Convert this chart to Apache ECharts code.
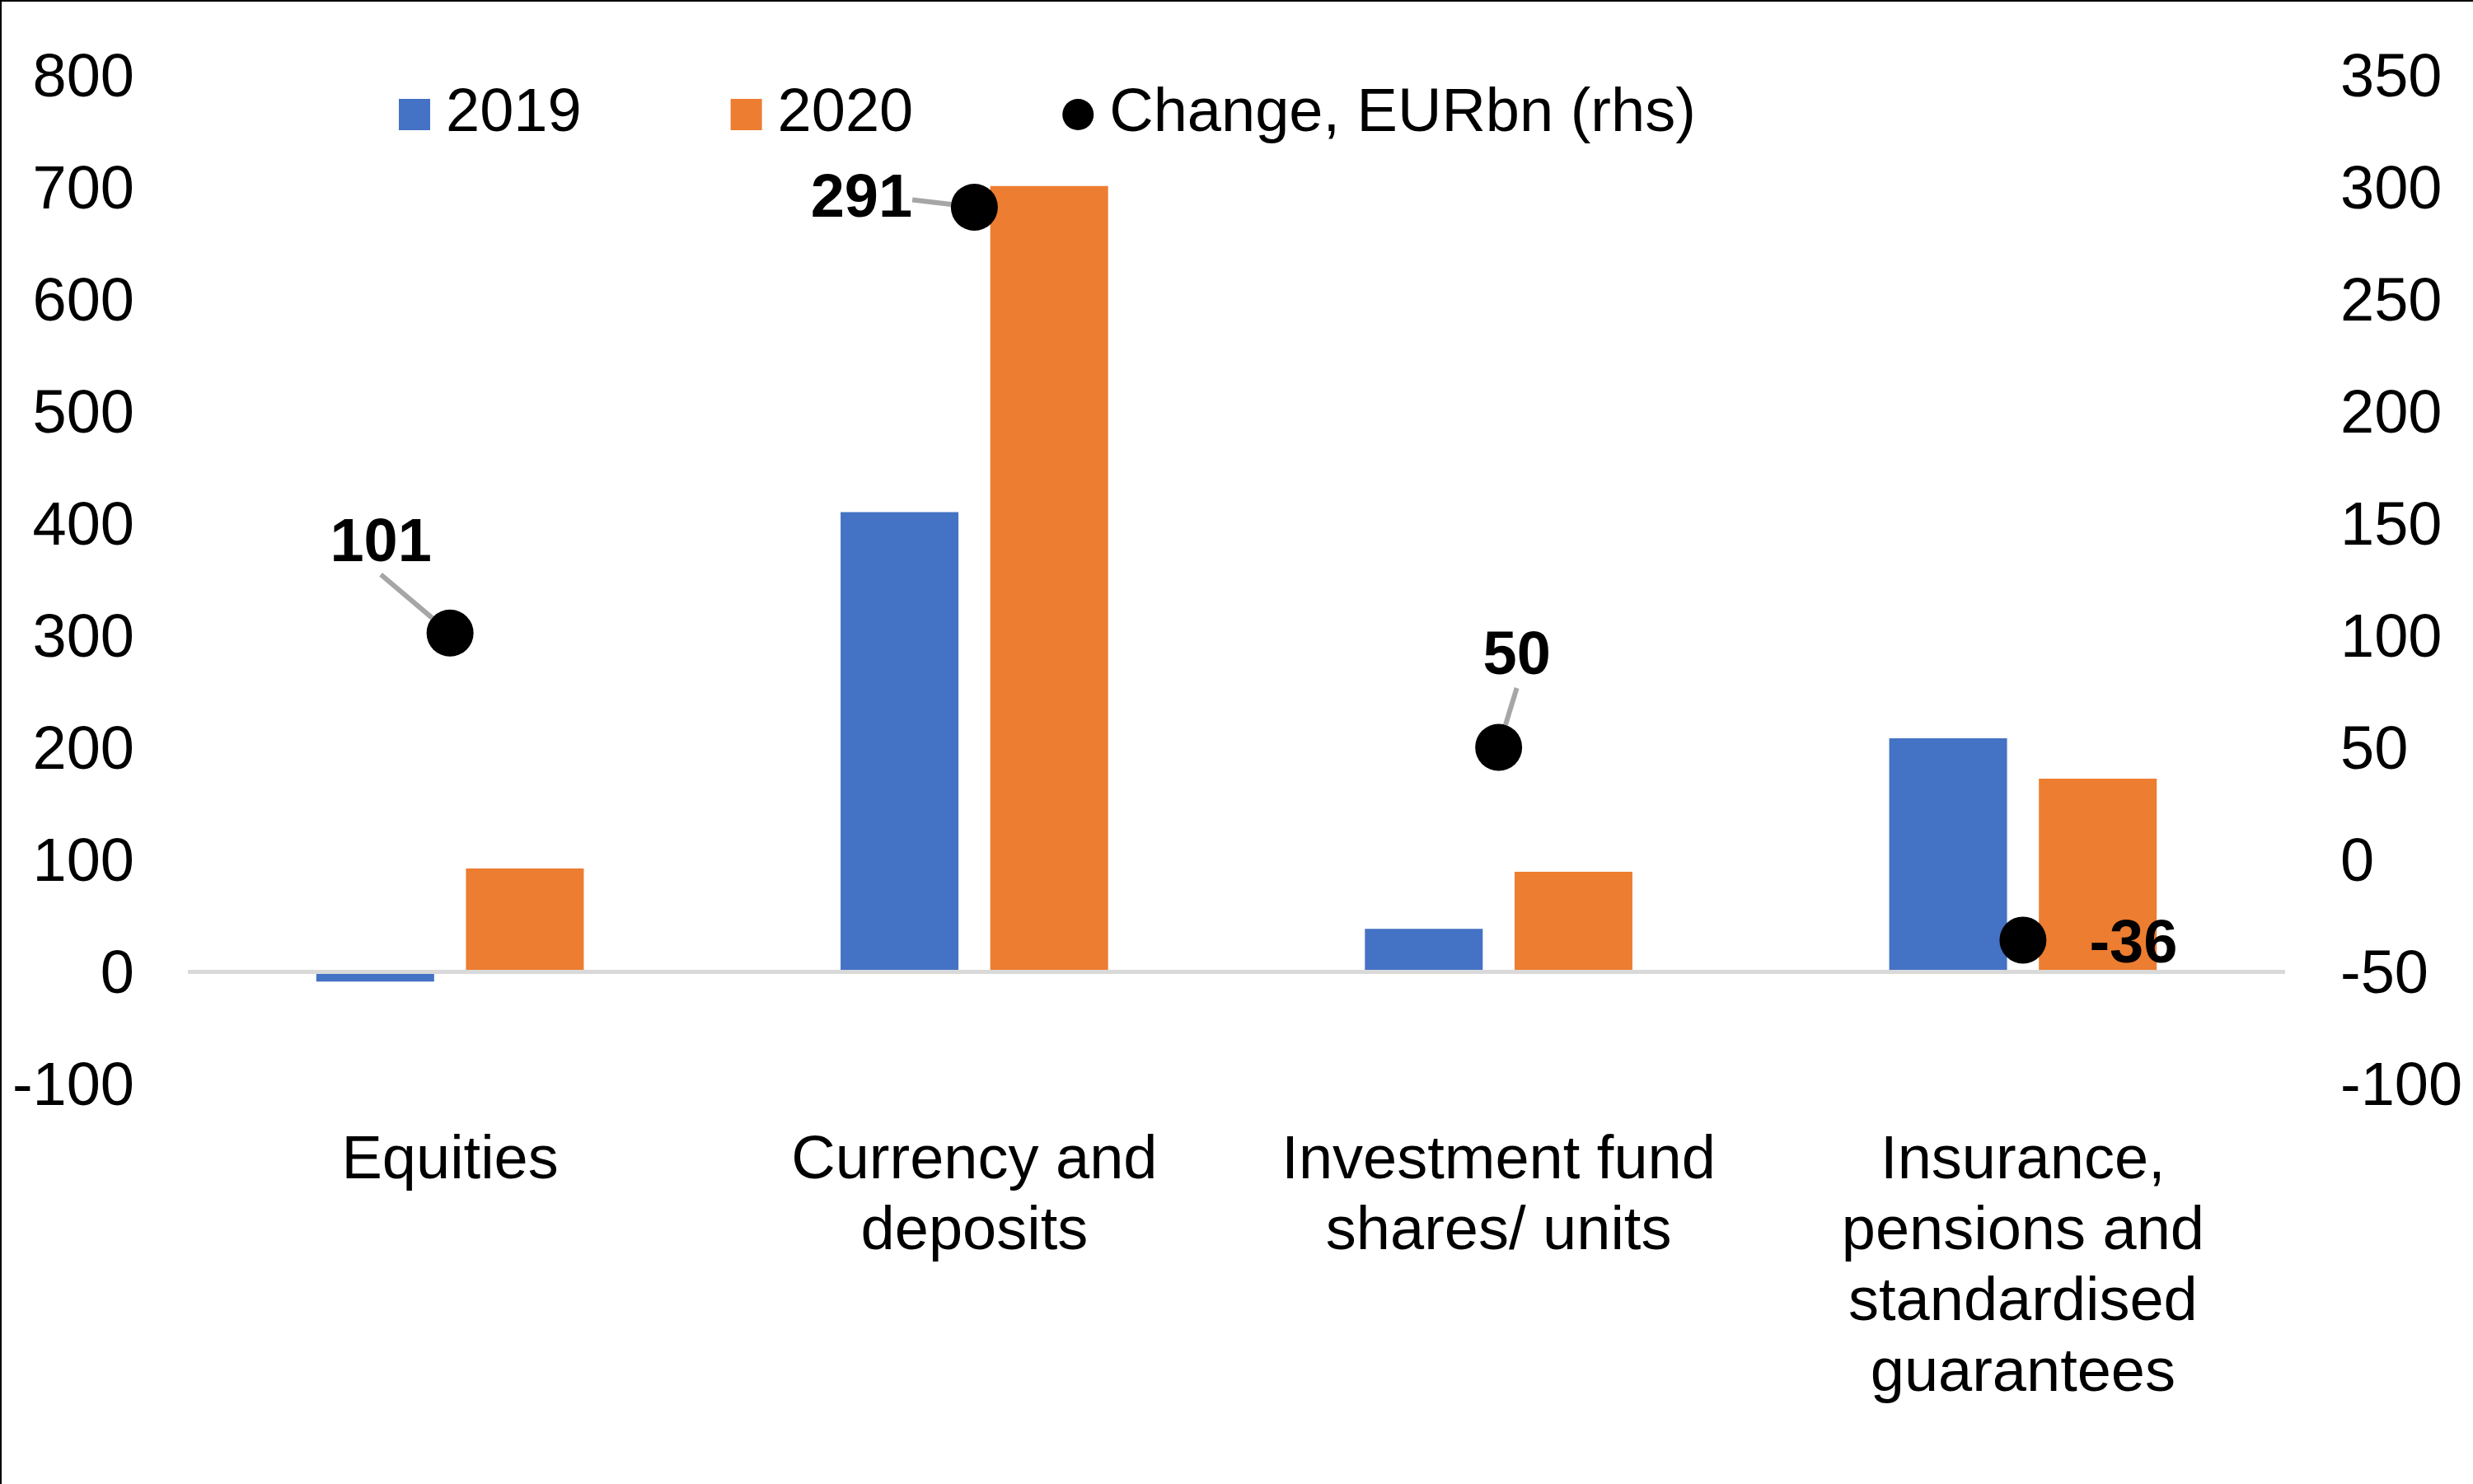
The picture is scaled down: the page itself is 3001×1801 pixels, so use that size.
<!DOCTYPE html>
<html>
<head>
<meta charset="utf-8">
<script src="https://cdn.jsdelivr.net/npm/echarts@6/dist/echarts.min.js"></script>
<style>
  html, body { margin: 0; padding: 0; background: #fff; }
  #chart { width: 3001px; height: 1801px; position: absolute; left: 0; top: 0; }
  #frame { position: absolute; left: 0; top: 0; width: 3001px; height: 1801px;
           border-top: 2px solid #000; border-left: 2px solid #000; box-sizing: border-box; pointer-events: none; }
</style>
</head>
<body>
<div id="chart"></div>
<div id="frame"></div>
<script>
// ---- data ----
const categories = ['Equities', 'Currency and\ndeposits', 'Investment fund\nshares/ units', 'Insurance,\npensions and\nstandardised\nguarantees'];
const values2019 = [-9, 410, 38, 208];
const values2020 = [92, 701, 89, 172];
const changeValues = [101, 291, 50, -36];
const seriesNames = ['2019', '2020', 'Change, EURbn (rhs)'];
const leftAxis = { min: -100, max: 800, interval: 100 };
const rightAxis = { min: -100, max: 350, interval: 50 };

// ---- presentation ----
const labelOffsets = [[-84, -108], [-137, -9], [22, -109], [134, 7]];
const showLeader = [true, true, true, false];
const FONT = '"Liberation Sans", Arial, sans-serif';
const FS = 74;

const chart = echarts.init(document.getElementById('chart'), null, { renderer: 'canvas' });

const tickRich = { t: { fontFamily: FONT, fontSize: FS, color: '#000', padding: [12, 0, 0, 0] } };

const option = {
  backgroundColor: '#ffffff',
  animation: false,
  textStyle: { fontFamily: FONT },
  legend: {
    left: 479, top: 97,
    itemWidth: 38, itemHeight: 38, itemGap: 181,
    textStyle: { fontFamily: FONT, fontSize: FS, color: '#000', lineHeight: 74, padding: [0, 0, 0, 14] },
    data: [
      { name: seriesNames[0], icon: 'rect' },
      { name: seriesNames[1], icon: 'rect' },
      { name: seriesNames[2], icon: 'circle', itemStyle: { color: '#000', opacity: 1 } }
    ]
  },
  grid: { left: 228, right: 228, top: 91, bottom: 486, containLabel: false },
  xAxis: {
    type: 'category',
    data: categories,
    position: 'bottom',
    axisLine: { show: false, onZero: false },
    axisTick: { show: false },
    axisLabel: { fontFamily: FONT, fontSize: FS, color: '#000', lineHeight: 86, margin: 52, interval: 0 }
  },
  yAxis: [
    {
      type: 'value', min: leftAxis.min, max: leftAxis.max, interval: leftAxis.interval,
      axisLine: { show: false }, axisTick: { show: false }, splitLine: { show: false },
      axisLabel: { margin: 65, formatter: '{t|{value}}', rich: tickRich }
    },
    {
      type: 'value', min: rightAxis.min, max: rightAxis.max, interval: rightAxis.interval,
      position: 'right',
      axisLine: { show: false }, axisTick: { show: false }, splitLine: { show: false },
      axisLabel: { margin: 67, formatter: '{t|{value}}', rich: tickRich }
    }
  ],
  series: [
    {
      name: seriesNames[0], type: 'bar', data: values2019, yAxisIndex: 0,
      barWidth: 143, barGap: '27%',
      itemStyle: { color: '#4472C4' },
      markLine: {
        silent: true, symbol: 'none', label: { show: false },
        lineStyle: { color: '#D9D9D9', width: 5, type: 'solid' },
        data: [{ yAxis: 0 }]
      }
    },
    {
      name: seriesNames[1], type: 'bar', data: values2020, yAxisIndex: 0,
      barWidth: 143,
      itemStyle: { color: '#ED7D31' }
    },
    {
      name: seriesNames[2], type: 'scatter', yAxisIndex: 1, z: 5,
      symbol: 'circle', symbolSize: 57,
      itemStyle: { color: '#000', opacity: 1 },
      data: changeValues.map((v, i) => ({ value: v, labelLine: { show: showLeader[i] } })),
      label: {
        show: true, position: 'inside',
        fontFamily: FONT, fontSize: FS, fontWeight: 'bold', color: '#000', opacity: 1,
        formatter: p => String(p.value)
      },
      labelLine: { show: true, lineStyle: { color: '#A6A6A6', width: 6, opacity: 1 } },
      labelLayout: function (params) {
        const o = labelOffsets[params.dataIndex];
        return { dx: o[0], dy: o[1] };
      }
    }
  ]
};
chart.setOption(option);
</script>
</body>
</html>
